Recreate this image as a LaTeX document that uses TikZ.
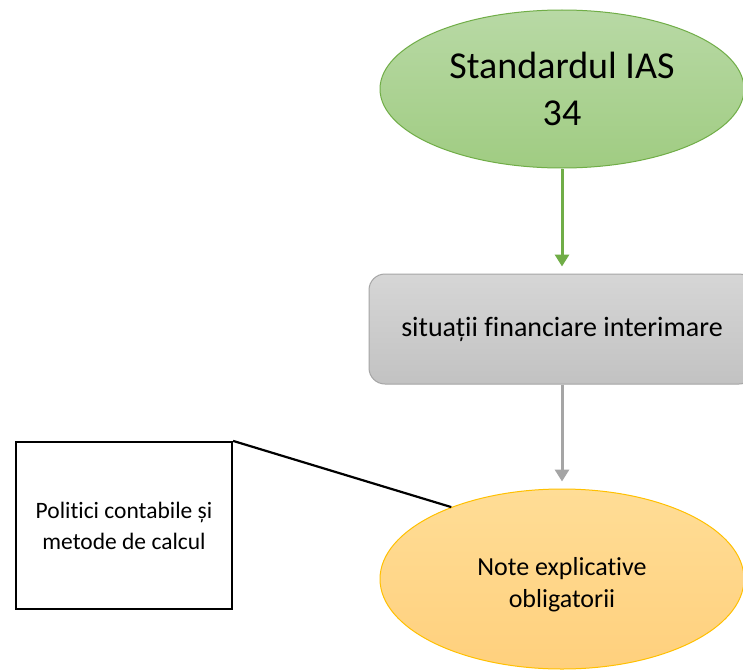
\documentclass[tikz,border=0pt]{standalone}
\usepackage{fontspec}
\setmainfont{Carlito}[Ligatures=NoCommon]
\usetikzlibrary{shapes.geometric,arrows.meta}
\definecolor{gborder}{RGB}{112,173,71}
\definecolor{gtop}{RGB}{184,217,165}
\definecolor{gbot}{RGB}{160,204,130}
\definecolor{sborder}{RGB}{165,165,165}
\definecolor{stop}{RGB}{214,214,214}
\definecolor{sbot}{RGB}{194,194,194}
\definecolor{yborder}{RGB}{255,192,0}
\definecolor{ytop}{RGB}{255,221,150}
\definecolor{ybot}{RGB}{255,208,125}
\tikzset{
  greenell/.style={ellipse, draw=gborder, line width=1pt, top color=gtop, bottom color=gbot,
    minimum width=364pt, minimum height=158pt, inner sep=0pt, align=center,
    font=\fontsize{38}{47}\selectfont},
  greybox/.style={rectangle, rounded corners=16pt, draw=sborder, line width=1pt, top color=stop, bottom color=sbot,
    minimum width=386pt, minimum height=110pt, inner sep=0pt, align=center,
    font=\fontsize{28}{33}\selectfont},
  yellowell/.style={ellipse, draw=yborder, line width=1pt, top color=ytop, bottom color=ybot,
    minimum width=364pt, minimum height=180pt, inner sep=0pt, align=center,
    font=\fontsize{26}{32}\selectfont},
  notebox/.style={rectangle, draw=black, line width=2.2pt, fill=white,
    minimum width=216pt, minimum height=167pt, inner sep=0pt, align=center,
    font=\fontsize{23.5}{31}\selectfont},
  garrow/.style={draw=gborder, line width=3pt, -{Triangle[width=14pt,length=12pt]}, shorten >=7pt},
  sarrow/.style={draw=sborder, line width=3pt, -{Triangle[width=14pt,length=12pt]}, shorten >=7pt},
  callout/.style={draw=black, line width=2.2pt}
}
\begin{document}
\begin{tikzpicture}[x=1pt,y=-1pt]
\clip (0,0) rectangle (743,669);
\fill[white] (0,0) rectangle (743,669);
\node[greenell] (g) at (562,89) {Standardul IAS\\34};
\node[greybox] (s) at (562,329) {situații financiare interimare};
\node[yellowell] (y) at (562,579) {\rule{0pt}{30pt}Note explicative\\obligatorii};
\node[notebox] (p) at (124,525.5) {Politici contabile și\\metode de calcul};
\draw[garrow] (g.south) -- (s.north);
\draw[sarrow] (s.south) -- (y.north);
\draw[callout] (p.north east) -- (y.147.7);
\end{tikzpicture}
\end{document}
